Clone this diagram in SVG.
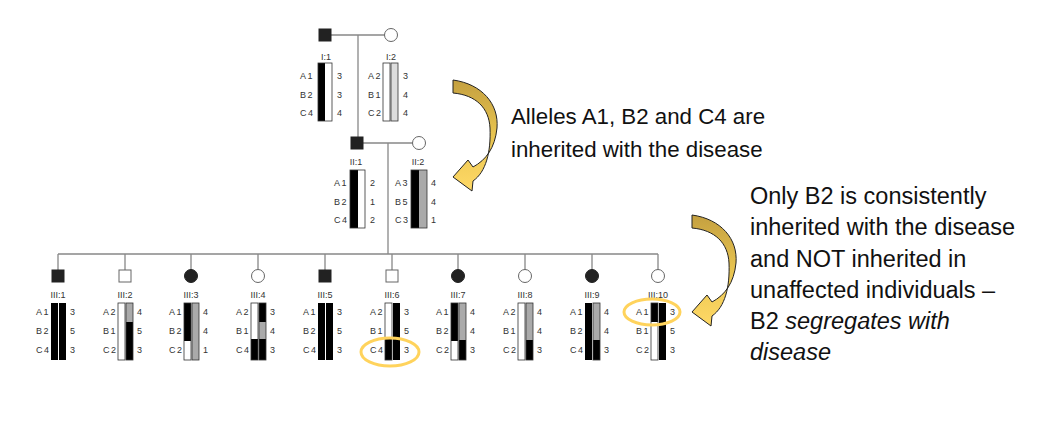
<svg xmlns="http://www.w3.org/2000/svg" width="1063" height="430" viewBox="0 0 1063 430">
<defs>
<linearGradient id="g" x1="0" y1="0" x2="0" y2="1"><stop offset="0" stop-color="#C4A040"/><stop offset="0.5" stop-color="#E8C450"/><stop offset="1" stop-color="#FFD966"/></linearGradient>
<style>
.ln{stroke:#888;stroke-width:1.3;fill:none}
.aff{fill:#222;stroke:#222;stroke-width:1}
.un{fill:#fff;stroke:#666;stroke-width:1}
.s{font-family:"Liberation Sans",Arial,sans-serif;font-size:9px;fill:#333;letter-spacing:1.5px}
.lb{font-family:"Liberation Sans",Arial,sans-serif;font-size:9px;fill:#333;text-anchor:middle}
.bk{fill:#000}.wh{fill:#fff}.gr{fill:#aaa}.lg{fill:#ddd}
.ol{fill:none;stroke:#333;stroke-width:0.8}
.t{font-family:"Liberation Sans",Arial,sans-serif;font-size:22.3px;fill:#111}
.t2{font-family:"Liberation Sans",Arial,sans-serif;font-size:23.5px;fill:#111}
.hl{fill:none;stroke:#FFD35C;stroke-width:3}
.arr{fill:url(#g);stroke:#222;stroke-width:1}
</style>
</defs>
<rect width="1063" height="430" fill="#fff"/>
<g id="connectors">
<path class="ln" d="M331,35H385M358,35V137M363,143H413M388,143V254M58,254H658M58,254V270M125,254V270M191,254V270M258,254V270M325,254V270M392,254V270M458,254V270M525,254V270M592,254V270M658,254V270"/>
</g>
<g id="I1"><rect class="aff" x="319" y="29" width="12" height="12"/><text class="lb" x="326" y="60">I:1</text>
<rect class="bk" x="318" y="63" width="7" height="58"/><rect class="wh" x="325" y="63" width="7" height="58"/><rect class="ol" x="318" y="63" width="14" height="58"/>
<text class="s" x="300" y="79">A1</text><text class="s" x="300" y="98">B2</text><text class="s" x="300" y="116">C4</text>
<text class="s" x="337" y="79">3</text><text class="s" x="337" y="98">3</text><text class="s" x="337" y="116">4</text></g>
<g id="I2"><circle class="un" cx="391" cy="35" r="6.5"/><text class="lb" x="391" y="60">I:2</text>
<rect class="wh" x="383" y="63" width="7" height="58"/><rect class="lg" x="391" y="63" width="7" height="58"/><rect class="ol" x="383" y="63" width="7" height="58"/><rect class="ol" x="391" y="63" width="7" height="58"/>
<text class="s" x="368" y="79">A2</text><text class="s" x="368" y="98">B1</text><text class="s" x="368" y="116">C2</text>
<text class="s" x="403" y="79">3</text><text class="s" x="403" y="98">4</text><text class="s" x="403" y="116">4</text></g>
<g id="II1"><rect class="aff" x="351" y="137" width="12" height="12"/><text class="lb" x="356" y="165">II:1</text>
<rect class="bk" x="350" y="170" width="8" height="58"/><rect class="wh" x="358" y="170" width="7" height="58"/><rect class="ol" x="350" y="170" width="15" height="58"/>
<text class="s" x="334" y="186">A1</text><text class="s" x="334" y="205">B2</text><text class="s" x="334" y="223">C4</text>
<text class="s" x="370" y="186">2</text><text class="s" x="370" y="205">1</text><text class="s" x="370" y="223">2</text></g>
<g id="II2"><circle class="un" cx="419" cy="143" r="6.5"/><text class="lb" x="418" y="165">II:2</text>
<rect class="bk" x="411" y="170" width="8" height="58"/><rect class="gr" x="419" y="170" width="8" height="58"/><rect class="ol" x="411" y="170" width="16" height="58"/>
<text class="s" x="395" y="186">A3</text><text class="s" x="395" y="205">B5</text><text class="s" x="395" y="223">C3</text>
<text class="s" x="431" y="186">4</text><text class="s" x="431" y="205">4</text><text class="s" x="431" y="223">1</text></g>

<g id="III1" transform="translate(58,0)"><rect class="aff" x="-6" y="270" width="12" height="12"/><text class="lb" x="0" y="298">III:1</text>
<rect class="bk" x="-7" y="303" width="7" height="57"/><rect class="bk" x="1" y="303" width="7" height="57"/>
<text class="s" x="-22" y="315">A1</text><text class="s" x="-22" y="334">B2</text><text class="s" x="-22" y="353">C4</text>
<text class="s" x="12" y="315">3</text><text class="s" x="12" y="334">5</text><text class="s" x="12" y="353">3</text></g>
<g id="III2" transform="translate(125,0)"><rect class="un" x="-6" y="270" width="12" height="12"/><text class="lb" x="0" y="298">III:2</text>
<rect class="wh" x="-7" y="303" width="7" height="57"/><rect class="gr" x="1" y="303" width="7" height="19"/><rect class="bk" x="1" y="322" width="7" height="38"/><rect class="ol" x="-7" y="303" width="7" height="57"/><rect class="ol" x="1" y="303" width="7" height="57"/>
<text class="s" x="-22" y="315">A2</text><text class="s" x="-22" y="334">B1</text><text class="s" x="-22" y="353">C2</text>
<text class="s" x="12" y="315">4</text><text class="s" x="12" y="334">5</text><text class="s" x="12" y="353">3</text></g>
<g id="III3" transform="translate(191,0)"><circle class="aff" cx="0" cy="276" r="6.5"/><text class="lb" x="0" y="298">III:3</text>
<rect class="bk" x="-7" y="303" width="7" height="38"/><rect class="wh" x="-7" y="341" width="7" height="19"/><rect class="gr" x="1" y="303" width="7" height="57"/><rect class="ol" x="-7" y="303" width="7" height="57"/><rect class="ol" x="1" y="303" width="7" height="57"/>
<text class="s" x="-22" y="315">A1</text><text class="s" x="-22" y="334">B2</text><text class="s" x="-22" y="353">C2</text>
<text class="s" x="12" y="315">4</text><text class="s" x="12" y="334">4</text><text class="s" x="12" y="353">1</text></g>
<g id="III4" transform="translate(258,0)"><circle class="un" cx="0" cy="276" r="6.5"/><text class="lb" x="0" y="298">III:4</text>
<rect class="wh" x="-7" y="303" width="7" height="36"/><rect class="bk" x="-7" y="339" width="7" height="21"/><rect class="bk" x="1" y="303" width="7" height="19"/><rect class="gr" x="1" y="322" width="7" height="17"/><rect class="bk" x="1" y="339" width="7" height="21"/><rect class="ol" x="-7" y="303" width="7" height="57"/><rect class="ol" x="1" y="303" width="7" height="57"/>
<text class="s" x="-22" y="315">A2</text><text class="s" x="-22" y="334">B1</text><text class="s" x="-22" y="353">C4</text>
<text class="s" x="12" y="315">3</text><text class="s" x="12" y="334">4</text><text class="s" x="12" y="353">3</text></g>
<g id="III5" transform="translate(325,0)"><rect class="aff" x="-6" y="270" width="12" height="12"/><text class="lb" x="0" y="298">III:5</text>
<rect class="bk" x="-7" y="303" width="7" height="57"/><rect class="bk" x="1" y="303" width="7" height="57"/>
<text class="s" x="-22" y="315">A1</text><text class="s" x="-22" y="334">B2</text><text class="s" x="-22" y="353">C4</text>
<text class="s" x="12" y="315">3</text><text class="s" x="12" y="334">5</text><text class="s" x="12" y="353">3</text></g>
<g id="III6" transform="translate(392,0)"><rect class="un" x="-6" y="270" width="12" height="12"/><text class="lb" x="0" y="298">III:6</text>
<rect class="wh" x="-7" y="303" width="7" height="36"/><rect class="bk" x="-7" y="339" width="7" height="21"/><rect class="bk" x="1" y="303" width="7" height="57"/><rect class="ol" x="-7" y="303" width="7" height="57"/>
<text class="s" x="-22" y="315">A2</text><text class="s" x="-22" y="334">B1</text><text class="s" x="-22" y="353">C4</text>
<text class="s" x="12" y="315">3</text><text class="s" x="12" y="334">5</text><text class="s" x="12" y="353">3</text>
<ellipse class="hl" cx="-2" cy="352" rx="29" ry="14"/></g>
<g id="III7" transform="translate(458,0)"><circle class="aff" cx="0" cy="276" r="6.5"/><text class="lb" x="0" y="298">III:7</text>
<rect class="bk" x="-7" y="303" width="7" height="38"/><rect class="wh" x="-7" y="341" width="7" height="19"/><rect class="gr" x="1" y="303" width="7" height="37"/><rect class="bk" x="1" y="340" width="7" height="20"/><rect class="ol" x="-7" y="303" width="7" height="57"/><rect class="ol" x="1" y="303" width="7" height="57"/>
<text class="s" x="-22" y="315">A1</text><text class="s" x="-22" y="334">B2</text><text class="s" x="-22" y="353">C2</text>
<text class="s" x="12" y="315">4</text><text class="s" x="12" y="334">4</text><text class="s" x="12" y="353">3</text></g>
<g id="III8" transform="translate(525,0)"><circle class="un" cx="0" cy="276" r="6.5"/><text class="lb" x="0" y="298">III:8</text>
<rect class="wh" x="-7" y="303" width="7" height="57"/><rect class="gr" x="1" y="303" width="7" height="37"/><rect class="bk" x="1" y="340" width="7" height="20"/><rect class="ol" x="-7" y="303" width="7" height="57"/><rect class="ol" x="1" y="303" width="7" height="57"/>
<text class="s" x="-22" y="315">A2</text><text class="s" x="-22" y="334">B1</text><text class="s" x="-22" y="353">C2</text>
<text class="s" x="12" y="315">4</text><text class="s" x="12" y="334">4</text><text class="s" x="12" y="353">3</text></g>
<g id="III9" transform="translate(592,0)"><circle class="aff" cx="0" cy="276" r="6.5"/><text class="lb" x="0" y="298">III:9</text>
<rect class="bk" x="-7" y="303" width="7" height="57"/><rect class="gr" x="1" y="303" width="7" height="37"/><rect class="bk" x="1" y="340" width="7" height="20"/><rect class="ol" x="1" y="303" width="7" height="57"/>
<text class="s" x="-22" y="315">A1</text><text class="s" x="-22" y="334">B2</text><text class="s" x="-22" y="353">C4</text>
<text class="s" x="12" y="315">4</text><text class="s" x="12" y="334">4</text><text class="s" x="12" y="353">3</text></g>
<g id="III10" transform="translate(658,0)"><circle class="un" cx="0" cy="276" r="6.5"/><text class="lb" x="0" y="298">III:10</text>
<rect class="bk" x="-7" y="303" width="7" height="19"/><rect class="wh" x="-7" y="322" width="7" height="38"/><rect class="bk" x="1" y="303" width="7" height="57"/><rect class="ol" x="-7" y="303" width="7" height="57"/>
<text class="s" x="-22" y="315">A1</text><text class="s" x="-22" y="334">B1</text><text class="s" x="-22" y="353">C2</text>
<text class="s" x="12" y="315">3</text><text class="s" x="12" y="334">5</text><text class="s" x="12" y="353">3</text>
<ellipse class="hl" cx="-6" cy="312" rx="28" ry="13"/></g>

<g id="arrow1"><path class="arr" d="M453,80 C482,84 499,104 497,128 C495,148 486,160 473,167 L468,160 L453,177 L472,191 L473,181 C486,172 491,152 490,128 C489,108 476,95 453,93 Z"/></g>
<g id="arrow2" transform="translate(239,135)"><path class="arr" d="M453,80 C482,84 499,104 497,128 C495,148 486,160 473,167 L468,160 L453,177 L472,191 L473,181 C486,172 491,152 490,128 C489,108 476,95 453,93 Z"/></g>
<g id="text1"><text class="t" x="511" y="124">Alleles A1, B2 and C4 are</text><text class="t" x="511" y="157">inherited with the disease</text></g>
<g id="text2"><text class="t2" x="750" y="204">Only B2 is consistently</text><text class="t2" x="750" y="235">inherited with the disease</text><text class="t2" x="750" y="267">and NOT inherited in</text><text class="t2" x="750" y="298">unaffected individuals –</text><text class="t2" x="750" y="329">B2 <tspan font-style="italic">segregates with</tspan></text><text class="t2" x="750" y="360" font-style="italic">disease</text></g>
</svg>
